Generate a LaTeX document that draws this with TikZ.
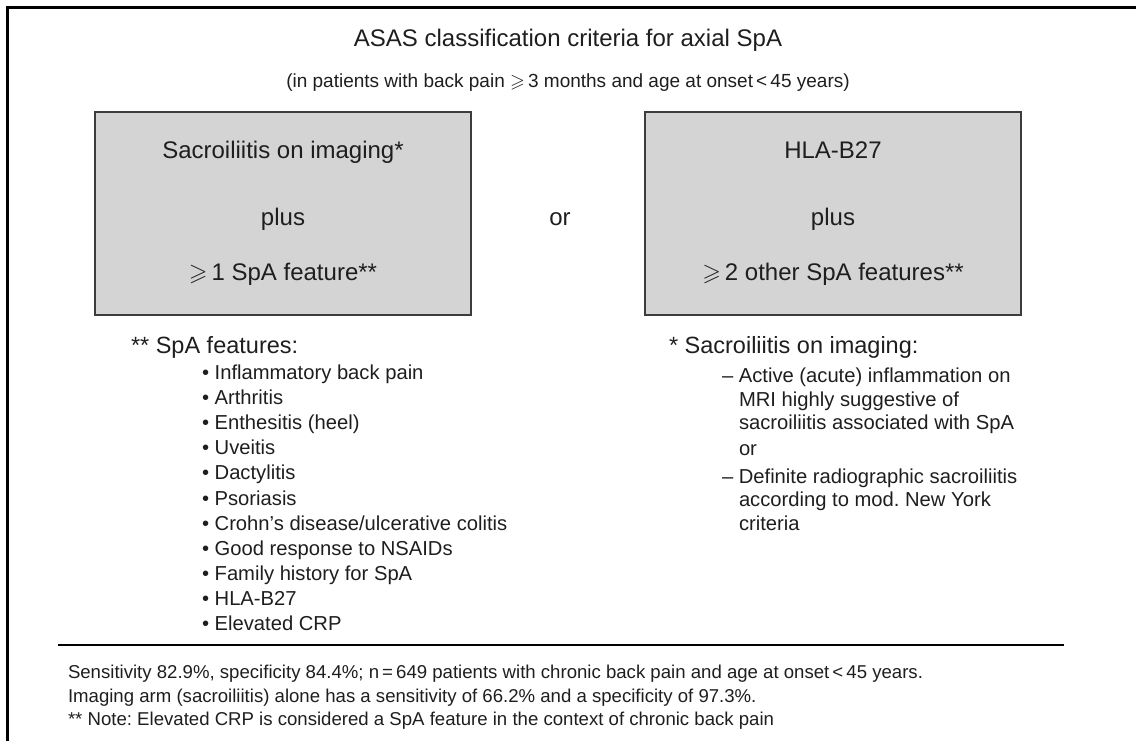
\documentclass[tikz,border=0pt]{standalone}
\usepackage{fontspec}
\usepackage{amssymb}
\setmainfont{Liberation Sans}
\frenchspacing
\definecolor{ink}{HTML}{1E1E1E}
\definecolor{boxfill}{HTML}{D4D4D4}
\definecolor{boxline}{HTML}{3C3C3C}
\newcommand{\fs}[1]{\fontsize{#1}{#1}\selectfont}
\begin{document}
\begin{tikzpicture}[x=1pt,y=-1pt,
  txt/.style={inner sep=0pt, outer sep=0pt, text=ink},
  ctr/.style={txt, anchor=base},
  lft/.style={txt, anchor=base west},
  title/.style={ctr, font=\fs{24}},
  subtitle/.style={ctr, font=\fs{19}},
  boxtext/.style={ctr, font=\fs{24}},
  critbox/.style={draw=boxline, line width=2.2pt, fill=boxfill,
    minimum width=376pt, minimum height=203pt, inner sep=0pt},
  listhead/.style={lft, font=\fs{23.5}},
  item/.style={lft, font=\fs{20.2}},
  foot/.style={lft, font=\fs{18.6}},
  rule/.style={line width=2.5pt, draw=black}]
\useasboundingbox (0,0) rectangle (1136,740);

% outer frame: top and left edges only
\coordinate (frameTR) at (1136,7);
\coordinate (frameTL) at (7,7);
\coordinate (frameBL) at (7,740);
\draw[line width=3pt, line cap=rect] (frameTR) -- (frameTL) -- (frameBL);

% heading
\node[title] (ttl) at (568,46.5) {ASAS classification criteria for axial SpA};
\node[subtitle] (sub) at (568,87) {(in patients with back pain $\geqslant$\,3 months and age at onset\,<\,45 years)};

% the two arms
\node[critbox] (armL) at (283,213.5) {};
\node[critbox] (armR) at (833,213.5) {};

\node[boxtext] (l1) at (283,158) {Sacroiliitis on imaging*};
\node[boxtext] (l2) at (283,225) {plus};
\node[boxtext] (l3) at (283,280) {$\geqslant$\,1 SpA feature**};

\node[boxtext] (r1) at (833,158) {HLA-B27};
\node[boxtext] (r2) at (833,225) {plus};
\node[boxtext] (r3) at (833,280) {$\geqslant$\,2 other SpA features**};

\node[boxtext] (orMid) at (560,225) {or};

% SpA features list
\node[listhead] (spaHead) at (131,353) {** SpA features:};
\foreach \t [count=\i from 0] in {Inflammatory back pain, Arthritis, Enthesitis (heel),
  Uveitis, Dactylitis, Psoriasis, Crohn's disease/ulcerative colitis,
  Good response to NSAIDs, Family history for SpA, HLA-B27, Elevated CRP}
  \node[item] (feat\i) at (202,379.3+25.16*\i) {• \t};

% imaging definition
\node[listhead] (imgHead) at (669,353) {* Sacroiliitis on imaging:};
\node[item] (img1) at (722,382.5) {– Active (acute) inflammation on};
\node[item] (img2) at (739,406.5) {MRI highly suggestive of};
\node[item] (img3) at (739,429.5) {sacroiliitis associated with SpA};
\node[item] (img4) at (739,455) {or};
\node[item] (img5) at (722,483) {– Definite radiographic sacroiliitis};
\node[item] (img6) at (739,506.5) {according to mod. New York};
\node[item] (img7) at (739,530) {criteria};

% separator and footnotes
\coordinate (sepL) at (58,645);
\coordinate (sepR) at (1064,645);
\draw[rule] (sepL) -- (sepR);

\node[foot] (f1) at (68,678) {Sensitivity 82.9\%, specificity 84.4\%; n\,=\,649 patients with chronic back pain and age at onset\,<\,45 years.};
\node[foot] (f2) at (68,702) {Imaging arm (sacroiliitis) alone has a sensitivity of 66.2\% and a specificity of 97.3\%.};
\node[foot] (f3) at (68,725) {** Note: Elevated CRP is considered a SpA feature in the context of chronic back pain};
\end{tikzpicture}
\end{document}
